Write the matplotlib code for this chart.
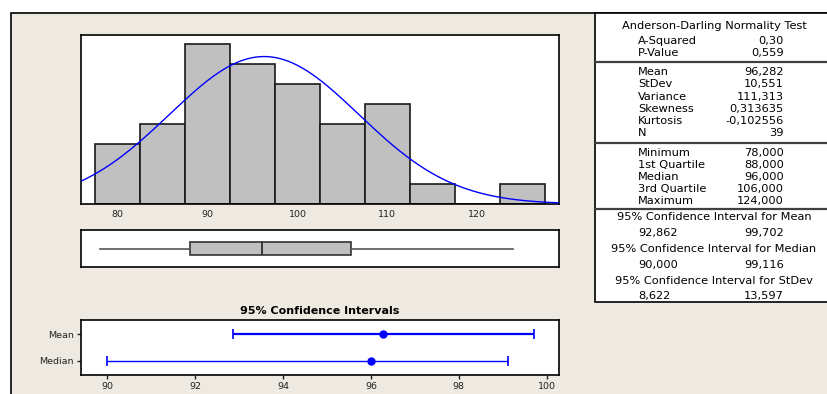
import numpy as np
import matplotlib
matplotlib.use("Agg")
import matplotlib.pyplot as plt
from matplotlib.patches import Rectangle

# ---- data ----
bin_centers = [80, 85, 90, 95, 100, 105, 110, 115, 120, 125]
counts = [3, 4, 8, 7, 6, 4, 5, 1, 0, 1]
bin_width = 5

ad_squared = 0.30
p_value = 0.559
mean = 96.282
stdev = 10.551
variance = 111.313
skewness = 0.313635
kurtosis = -0.102556
n_obs = 39

minimum = 78.0
q1 = 88.0
median = 96.0
q3 = 106.0
maximum = 124.0

ci_mean = [92.862, 99.702]
ci_median = [90.000, 99.116]
ci_stdev = [8.622, 13.597]

hist_ticks = [80, 90, 100, 110, 120]
ci_ticks = [90, 92, 94, 96, 98, 100]
ci_labels = ["Mean", "Median"]

# ---- styling ----
W, H = 828, 394
BEIGE = "#EEEAE1"
GREY = "#C0C0C0"
BLUE = "#0000FF"
FS = 6.8


def px_axes(fig, x0, y0, x1, y1):
    return fig.add_axes([x0 / W, 1 - y1 / H, (x1 - x0) / W, (y1 - y0) / H])


def fmt(v, d=3):
    return f"{v:.{d}f}".replace(".", ",")


fig = plt.figure(figsize=(W / 100, H / 100), dpi=100)
fig.patch.set_facecolor("white")

# background frame and stats panel
bg = fig.add_axes([0, 0, 1, 1], zorder=-5)
bg.set_xlim(0, W)
bg.set_ylim(H, 0)
bg.axis("off")
bg.add_patch(Rectangle((11, 13), W + 10, H, facecolor=BEIGE, edgecolor="black", lw=1.2))
bg.add_patch(Rectangle((595, 13), W, 289, facecolor="white", edgecolor="black", lw=1.2))
for yl in (62, 143, 209):
    bg.plot([595, W], [yl, yl], color="#404040", lw=1.6)

tfs = 8.2
lx, rx, cx = 638, 784, 714
bg.text(cx, 26, "Anderson-Darling Normality Test", ha="center", va="center", fontsize=tfs)
rows = [
    ("A-Squared", fmt(ad_squared, 2), 41),
    ("P-Value", fmt(p_value, 3), 53),
    ("Mean", fmt(mean), 72),
    ("StDev", fmt(stdev), 84),
    ("Variance", fmt(variance), 96.5),
    ("Skewness", fmt(skewness, 6), 109),
    ("Kurtosis", fmt(kurtosis, 6), 121),
    ("N", str(n_obs), 132.5),
    ("Minimum", fmt(minimum), 153),
    ("1st Quartile", fmt(q1), 165),
    ("Median", fmt(median), 177),
    ("3rd Quartile", fmt(q3), 189),
    ("Maximum", fmt(maximum), 201),
]
for lab, val, y in rows:
    bg.text(lx, y, lab, ha="left", va="center", fontsize=tfs)
    bg.text(rx, y, val, ha="right", va="center", fontsize=tfs)

ci_rows = [
    ("95% Confidence Interval for Mean", ci_mean, 217, 233),
    ("95% Confidence Interval for Median", ci_median, 249, 265),
    ("95% Confidence Interval for StDev", ci_stdev, 281, 296),
]
for title, (lo, hi), yt, yv in ci_rows:
    bg.text(cx, yt, title, ha="center", va="center", fontsize=tfs)
    bg.text(lx, yv, fmt(lo), ha="left", va="center", fontsize=tfs)
    bg.text(rx, yv, fmt(hi), ha="right", va="center", fontsize=tfs)

# ---- histogram with fitted normal curve ----
xlim = (75.9, 129.1)
ax = px_axes(fig, 81, 35, 559, 204)
ax.bar(bin_centers, counts, width=bin_width, color=GREY, edgecolor="#1a1a1a", lw=1.2, zorder=2)
xs = np.linspace(xlim[0], xlim[1], 400)
pdf = n_obs * bin_width * np.exp(-0.5 * ((xs - mean) / stdev) ** 2) / (stdev * np.sqrt(2 * np.pi))
ax.plot(xs, pdf, color=BLUE, lw=1.0, zorder=3)
ax.set_xlim(*xlim)
ax.set_ylim(0, 8.45)
ax.set_yticks([])
ax.set_xticks(hist_ticks)
ax.tick_params(axis="x", length=0, pad=4, labelsize=FS, colors="#222222")
for s in ax.spines.values():
    s.set_linewidth(1.2)

# ---- boxplot ----
axb = px_axes(fig, 81, 230, 559, 267)
stats = [dict(med=median, q1=q1, q3=q3, whislo=minimum, whishi=maximum, fliers=[])]
axb.bxp(stats, positions=[0.5], widths=0.36, orientation="horizontal", patch_artist=True,
        showcaps=False,
        boxprops=dict(facecolor=GREY, edgecolor="#333333", lw=1.2),
        medianprops=dict(color="#222222", lw=1.2),
        whiskerprops=dict(color="#555555", lw=1.2))
axb.set_xlim(*xlim)
axb.set_ylim(0, 1)
axb.set_xticks([])
axb.set_yticks([])
for s in axb.spines.values():
    s.set_linewidth(1.2)

# ---- confidence intervals ----
axc = px_axes(fig, 81, 320, 559, 375)
ci_centers = [mean, median]
ci_bounds = [ci_mean, ci_median]
ci_y = [1, 0]
ci_lw = [1.6, 1.0]
for c, (lo, hi), y, lw in zip(ci_centers, ci_bounds, ci_y, ci_lw):
    axc.errorbar([c], [y], xerr=[[c - lo], [hi - c]], fmt="o", color=BLUE, ms=5,
                 elinewidth=lw, capsize=3.3, capthick=1.2)
axc.set_xlim(89.40, 100.28)
axc.set_ylim(-0.52, 1.52)
axc.set_xticks(ci_ticks)
axc.set_yticks(ci_y)
axc.set_yticklabels(ci_labels)
axc.tick_params(axis="both", length=3, width=1, pad=2, labelsize=FS, colors="#222222")
axc.set_title("95% Confidence Intervals", fontsize=8, fontweight="bold", pad=4)
for s in axc.spines.values():
    s.set_linewidth(1.2)

fig.savefig("out.png", dpi=100)
